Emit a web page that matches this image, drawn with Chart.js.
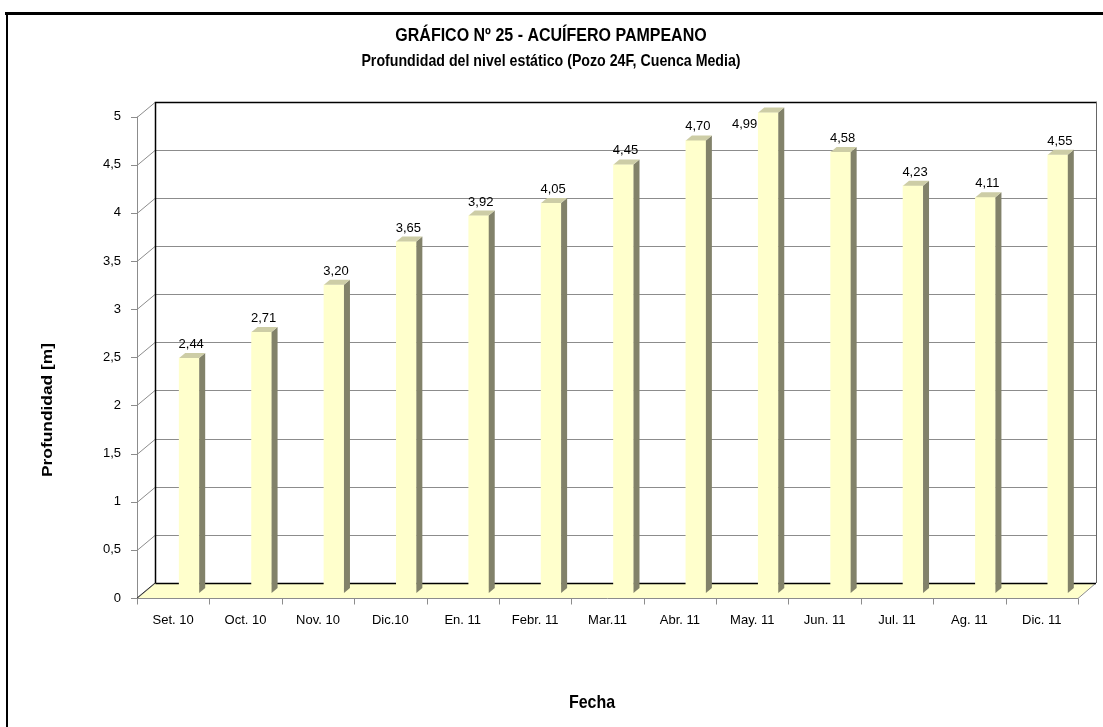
<!DOCTYPE html>
<html><head><meta charset="utf-8">
<script src="https://cdn.jsdelivr.net/npm/chart.js@4.4.1/dist/chart.umd.min.js"></script>
<style>html,body{margin:0;padding:0;background:#fff;}</style>
</head><body>
<canvas id="c" width="1103" height="727"></canvas>
<script>
// ---- data ----
const categories = ["Set. 10","Oct. 10","Nov. 10","Dic.10","En. 11","Febr. 11","Mar.11","Abr. 11","May. 11","Jun. 11","Jul. 11","Ag. 11","Dic. 11"];
const depthValues = [2.44, 2.71, 3.20, 3.65, 3.92, 4.05, 4.45, 4.70, 4.99, 4.58, 4.23, 4.11, 4.55];
const yTickValues = [0, 0.5, 1, 1.5, 2, 2.5, 3, 3.5, 4, 4.5, 5];
const titleText = "GRÁFICO Nº 25 - ACUÍFERO PAMPEANO";
const subtitleText = "Profundidad del nivel estático (Pozo 24F, Cuenca Media)";
const yAxisTitle = "Profundidad [m]";
const xAxisTitle = "Fecha";

const FONT = '"Liberation Sans", Arial, sans-serif';
const fmt = v => v.toFixed(2).replace('.', ',');
const fmtTick = v => String(v).replace('.', ',');

// 3D offsets relative to the bar plane
const FRONT_DX = -16, FRONT_DY = 5;   // plane -> front edge
const BACK_DX = 2, BACK_DY = -10;     // plane -> back wall
const SIDE_DX = 6, SIDE_DY = -5;      // bar depth

function stretchedText(ctx, text, x, y, font, sx, sy, rot) {
  ctx.save();
  ctx.translate(x, y);
  if (rot) ctx.rotate(rot);
  ctx.scale(sx, sy);
  ctx.font = font;
  ctx.textAlign = 'center';
  ctx.textBaseline = 'middle';
  ctx.fillStyle = '#000';
  ctx.fillText(text, 0, 0);
  ctx.restore();
}

const frame3d = {
  id: 'frame3d',
  beforeDraw(chart) {
    const ctx = chart.ctx;
    ctx.save();
    ctx.fillStyle = '#fff';
    ctx.fillRect(0, 0, chart.width, chart.height);
    ctx.fillStyle = '#000';
    ctx.fillRect(5, 12, chart.width - 5, 3);
    ctx.fillRect(6, 12, 2, chart.height - 12);
    ctx.restore();
    stretchedText(ctx, titleText, 551, 36, 'bold 16px ' + FONT, 1, 1.18);
    stretchedText(ctx, subtitleText, 551, 61, 'bold 14.2px ' + FONT, 1, 1.22);
    stretchedText(ctx, yAxisTitle, 48, 410, 'bold 14px ' + FONT, 1.24, 1, -Math.PI / 2);
    stretchedText(ctx, xAxisTitle, 592, 703, 'bold 16px ' + FONT, 1, 1.2);
  },
  beforeDatasetsDraw(chart) {
    const ctx = chart.ctx, a = chart.chartArea;
    const ys = chart.scales.y, xs = chart.scales.x;
    const fL = a.left + FRONT_DX, fR = a.right + FRONT_DX;
    const bL = a.left + BACK_DX, bR = a.right + BACK_DX;
    const y0 = ys.getPixelForValue(0), yTop = ys.getPixelForValue(yTickValues[yTickValues.length - 1]);
    ctx.save();
    ctx.lineWidth = 1;
    // floor
    ctx.fillStyle = '#FFFFCC';
    ctx.beginPath();
    ctx.moveTo(fL, y0 + FRONT_DY); ctx.lineTo(fR, y0 + FRONT_DY);
    ctx.lineTo(bR, y0 + BACK_DY); ctx.lineTo(bL, y0 + BACK_DY); ctx.closePath();
    ctx.fill();
    // gridlines on back wall and left wall diagonals
    ctx.strokeStyle = '#8c8c8c';
    yTickValues.forEach(v => {
      const p = Math.round(ys.getPixelForValue(v)) + 0.5;
      if (v !== 0 && v !== yTickValues[yTickValues.length - 1]) {
        ctx.beginPath(); ctx.moveTo(bL, p + BACK_DY); ctx.lineTo(bR, p + BACK_DY); ctx.stroke();
      }
      ctx.beginPath(); ctx.moveTo(fL, p + FRONT_DY); ctx.lineTo(bL, p + BACK_DY); ctx.stroke();
      ctx.beginPath(); ctx.moveTo(fL - 6, p + FRONT_DY); ctx.lineTo(fL, p + FRONT_DY); ctx.stroke();
    });
    // front y axis line
    ctx.beginPath(); ctx.moveTo(Math.round(fL) + 0.5, yTop + FRONT_DY); ctx.lineTo(Math.round(fL) + 0.5, y0 + FRONT_DY); ctx.stroke();
    // back wall right edge
    ctx.strokeStyle = '#666';
    ctx.beginPath(); ctx.moveTo(Math.round(bR) + 0.5, yTop + BACK_DY); ctx.lineTo(Math.round(bR) + 0.5, y0 + BACK_DY); ctx.stroke();
    // floor front edge, right edge, x ticks
    ctx.strokeStyle = '#8c8c8c';
    const fy = Math.round(y0 + FRONT_DY) + 0.5;
    ctx.beginPath(); ctx.moveTo(fL, fy); ctx.lineTo(fR, fy); ctx.stroke();
    ctx.beginPath(); ctx.moveTo(fR, fy); ctx.lineTo(bR, y0 + BACK_DY); ctx.stroke();
    for (let k = 0; k <= categories.length; k++) {
      const x = Math.round(xs.getPixelForValue(k - 0.5) + FRONT_DX) + 0.5;
      ctx.beginPath(); ctx.moveTo(x, fy); ctx.lineTo(x, fy + 6); ctx.stroke();
    }
    // back wall top, left and bottom edges (black)
    ctx.strokeStyle = '#000';
    ctx.lineWidth = 1.5;
    const bt = Math.round(yTop + BACK_DY) + 0.5, bb = Math.round(y0 + BACK_DY) + 0.5, bl = Math.round(bL) + 0.5;
    ctx.beginPath(); ctx.moveTo(bl, bb); ctx.lineTo(bl, bt); ctx.lineTo(bR, bt); ctx.stroke();
    ctx.beginPath(); ctx.moveTo(bl, bb); ctx.lineTo(bR, bb); ctx.stroke();
    ctx.lineWidth = 1;
    ctx.strokeStyle = '#333';
    ctx.beginPath(); ctx.moveTo(fL, y0 + FRONT_DY); ctx.lineTo(bL, y0 + BACK_DY); ctx.stroke();
    ctx.restore();
  },
  afterDatasetsDraw(chart) {
    const ctx = chart.ctx, a = chart.chartArea;
    const meta = chart.getDatasetMeta(0);
    const wallTop = chart.scales.y.getPixelForValue(yTickValues[yTickValues.length - 1]) + BACK_DY;
    ctx.save();
    meta.data.forEach((bar, i) => {
      const l = bar.x - bar.width / 2, r = bar.x + bar.width / 2, t = bar.y, b = bar.base;
      // side face
      ctx.fillStyle = '#82826a';
      ctx.beginPath();
      ctx.moveTo(r, t); ctx.lineTo(r + SIDE_DX, t + SIDE_DY); ctx.lineTo(r + SIDE_DX, b + SIDE_DY); ctx.lineTo(r, b); ctx.closePath();
      ctx.fill();
      // top face
      ctx.fillStyle = '#cdcda6';
      ctx.beginPath();
      ctx.moveTo(l, t); ctx.lineTo(r, t); ctx.lineTo(r + SIDE_DX, t + SIDE_DY); ctx.lineTo(l + SIDE_DX, t + SIDE_DY); ctx.closePath();
      ctx.fill();
      // value label
      ctx.font = '13px ' + FONT;
      ctx.fillStyle = '#000';
      ctx.textBaseline = 'alphabetic';
      const txt = fmt(depthValues[i]);
      if (t - 20 < wallTop) {
        ctx.textAlign = 'right';
        ctx.fillText(txt, l - 1, t + 16);
      } else {
        ctx.textAlign = 'center';
        ctx.fillText(txt, bar.x + 2, t - 10);
      }
    });
    ctx.restore();
  }
};

new Chart(document.getElementById('c'), {
  type: 'bar',
  data: {
    labels: categories,
    datasets: [{
      data: depthValues,
      backgroundColor: '#FFFFCC',
      borderWidth: 0,
      barThickness: 20
    }]
  },
  options: {
    responsive: false,
    animation: false,
    devicePixelRatio: 1,
    layout: { padding: { left: 0, right: 9, top: 111.5, bottom: 94 } },
    plugins: { legend: { display: false }, title: { display: false }, tooltip: { enabled: false } },
    scales: {
      x: {
        grid: { display: false },
        border: { display: false },
        ticks: { font: { family: FONT, size: 13 }, color: '#000', padding: 12, labelOffset: -16, maxRotation: 0, autoSkip: false },
        afterFit(s) { s.height = 40; }
      },
      y: {
        min: 0, max: 5,
        grid: { display: false },
        border: { display: false },
        ticks: { stepSize: 0.5, font: { family: FONT, size: 13 }, color: '#000', padding: 24, labelOffset: 5, callback: v => fmtTick(v) },
        afterFit(s) { s.width = 153; }
      }
    }
  },
  plugins: [frame3d]
});
</script>
</body></html>
